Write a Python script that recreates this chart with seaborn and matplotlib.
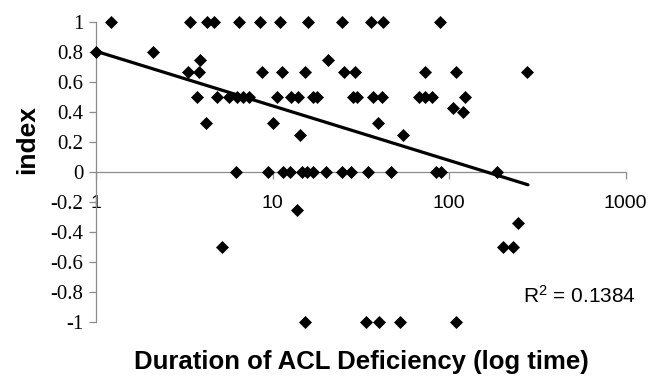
import numpy as np
import pandas as pd
import matplotlib
matplotlib.use("Agg")
import matplotlib.pyplot as plt
import seaborn as sns

# ---- data ----
duration = [1.22, 3.41, 4.27, 4.66, 6.48, 8.52, 11.06, 15.86, 24.9, 35.9, 42.0, 88.7,
            1.0, 2.11,
            3.88, 20.5,
            3.31, 3.82, 8.71, 11.3, 15.3, 25.5, 29.4, 72.9, 108.9, 278,
            3.72, 4.82, 5.69, 6.26, 6.77, 7.38, 10.6, 12.7, 14.0, 17.0, 17.9, 28.6, 29.9,
            37.2, 41.5, 67.4, 72.9, 79.6, 123.4,
            104.7, 120.3,
            4.18, 10.0, 39.7,
            14.3, 55.0,
            6.21, 9.46, 11.5, 12.6, 14.6, 15.7, 17.0, 20.1, 24.9, 27.8, 34.8, 46.8, 84.2, 89.5, 185.7,
            13.7, 246.4,
            5.19, 202.5, 230.7,
            15.3, 33.7, 40.0, 52.7, 108.9]
index = [1, 1, 1, 1, 1, 1, 1, 1, 1, 1, 1, 1,
         0.8, 0.8,
         0.75, 0.75,
         0.67, 0.67, 0.67, 0.67, 0.67, 0.67, 0.67, 0.67, 0.67, 0.67,
         0.5, 0.5, 0.5, 0.5, 0.5, 0.5, 0.5, 0.5, 0.5, 0.5, 0.5, 0.5, 0.5,
         0.5, 0.5, 0.5, 0.5, 0.5, 0.5,
         0.43, 0.4,
         0.33, 0.33, 0.33,
         0.25, 0.25,
         0, 0, 0, 0, 0, 0, 0, 0, 0, 0, 0, 0, 0, 0, 0,
         -0.25, -0.34,
         -0.5, -0.5, -0.5,
         -1, -1, -1, -1, -1]

# logarithmic trendline (Excel style: y = a*ln(x) + b)
trend_a = -0.158
trend_b = 0.805
trend_x = [1, 280]
r2_text = "R$^2$ = 0.1384"

x_ticks = [1, 10, 100, 1000]
x_ticklabels = ["1", "10", "100", "1000"]
y_ticks = [-1, -0.8, -0.6, -0.4, -0.2, 0, 0.2, 0.4, 0.6, 0.8, 1]
y_ticklabels = ["-1", "-0.8", "-0.6", "-0.4", "-0.2", "0", "0.2", "0.4", "0.6", "0.8", "1"]

df = pd.DataFrame({"duration": duration, "index": index})
trend_df = pd.DataFrame({"x": trend_x,
                         "y": [trend_a * np.log(v) + trend_b for v in trend_x]})

sns.set_theme(style="white")
plt.rcParams["font.family"] = ["Liberation Sans", "DejaVu Sans"]
plt.rcParams["mathtext.fontset"] = "custom"
plt.rcParams["mathtext.rm"] = "Liberation Sans"
plt.rcParams["mathtext.default"] = "regular"

fig = plt.figure(figsize=(6.49, 3.83), dpi=100)
ax = fig.add_axes([96 / 649, 1 - 322 / 383, (625.6 - 96) / 649, 300 / 383])

sns.scatterplot(data=df, x="duration", y="index", ax=ax, marker="D", s=44,
                color="black", edgecolor="black", linewidth=0, clip_on=False, zorder=3)
sns.lineplot(data=trend_df, x="x", y="y", ax=ax, color="black", linewidth=2.3,
             clip_on=False, zorder=4)

ax.set_xscale("log")
ax.set_xlim(1, 1000)
ax.set_ylim(-1, 1)

gray = "#8c8c8c"
for s in ["top", "right"]:
    ax.spines[s].set_visible(False)
ax.spines["bottom"].set_position(("data", 0))
ax.spines["bottom"].set_color(gray)
ax.spines["bottom"].set_linewidth(0.9)
ax.spines["left"].set_color(gray)
ax.spines["left"].set_linewidth(0.9)

ax.set_xticks(x_ticks)
ax.set_xticklabels(x_ticklabels)
ax.xaxis.set_minor_locator(matplotlib.ticker.NullLocator())
ax.set_yticks(y_ticks)
ax.set_yticklabels(y_ticklabels, family=["Liberation Serif", "DejaVu Serif"])

ax.tick_params(axis="x", direction="out", length=5, width=0.9, color=gray,
               pad=11.5, labelsize=14, labelcolor="black", bottom=True)
ax.tick_params(axis="y", direction="out", length=5, width=0.9, color=gray,
               pad=4, labelsize=15, labelcolor="black", left=True)

ax.set_xlabel("")
ax.set_ylabel("")
fig.text(361 / 649, 1 - 362 / 383, "Duration of ACL Deficiency (log time)",
         ha="center", va="center", fontsize=18.5, fontweight="bold", color="black")
fig.text(27 / 649, 1 - 140 / 383, "index", rotation=90, ha="center", va="center",
         fontsize=19, fontweight="bold", color="black")
fig.text(523 / 649, 1 - 296 / 383, r2_text, ha="left", va="center",
         fontsize=15, color="black")

fig.savefig("out.png", dpi=100, facecolor="white")
